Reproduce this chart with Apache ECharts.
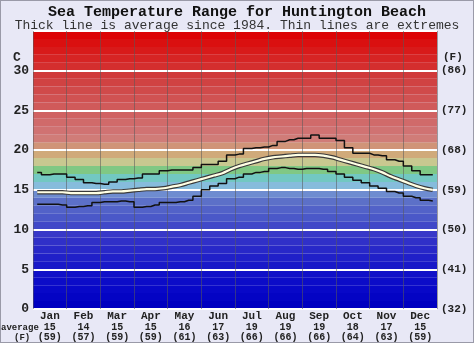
<!DOCTYPE html>
<html>
<head>
<meta charset="utf-8">
<script src="https://cdn.jsdelivr.net/npm/echarts@6/dist/echarts.min.js"></script>
<style>
html,body{margin:0;padding:0;background:#e8e8f6;}
#main{width:474px;height:343px;box-sizing:border-box;border:1px solid #9a9aa8;}
</style>
</head>
<body>
<div id="main"></div>
<script>
var months = ['Jan','Feb','Mar','Apr','May','Jun','Jul','Aug','Sep','Oct','Nov','Dec'];
var avgC = [15,14,15,15,16,17,19,19,19,18,17,15];
var avgF = [59,57,59,59,61,63,66,66,66,64,63,59];

// quarter-month readings, deg C
var upper = [17.2,16.9,17.0,17.0, 16.6,16.3,15.9,15.8, 15.7,16.0,16.3,16.4, 16.5,17.0,17.0,17.4,
	17.5,17.5,17.5,17.8, 18.2,18.2,18.6,19.4, 19.5,20.2,20.3,20.4, 20.6,21.1,21.3,21.5,
	21.5,21.9,21.5,21.5, 21.2,20.3,19.6,19.6, 19.4,19.3,18.8,18.6, 18.0,17.4,16.9,16.9];
var average = [14.7,14.7,14.7,14.7, 14.6,14.6,14.6,14.6, 14.7,14.8,14.8,14.9, 15.0,15.1,15.1,15.2,
	15.4,15.6,15.9,16.2, 16.5,16.8,17.1,17.6, 18.0,18.3,18.6,18.9, 19.1,19.2,19.3,19.4,
	19.4,19.4,19.3,19.1, 18.8,18.5,18.2,17.9, 17.6,17.2,16.7,16.3, 15.9,15.5,15.2,15.0];
var lower = [13.2,13.2,13.2,13.1, 12.8,12.9,13.0,13.4, 13.5,13.5,13.6,13.5, 12.8,12.9,13.1,13.4,
	13.4,13.5,13.7,14.2, 15.0,15.5,15.8,16.4, 16.6,17.0,17.2,17.3, 17.7,17.8,17.7,17.6,
	17.7,17.7,17.6,17.3, 17.0,16.6,16.2,15.9, 15.5,15.2,14.8,14.6, 14.2,14.0,13.7,13.6];
var steps = upper.map(function(v, i){ return i; });

// one colour per degree, from 0 up to 35
var bandColors = ['#0000c0','#0404c4','#0808c8','#0c0cc8','#1010c8','#1818c8','#2020c8','#2828c8',
	'#3030c8','#3838c8','#4048c8','#4a58c8','#5262c8','#5c70c8','#6e8cd0','#86bcdc',
	'#72c8c2','#80c884','#c8c890','#d0aa7a','#d09478','#d07c78','#d07272','#d06a6a',
	'#d06262','#d05a5a','#d05252','#d04a4a','#d04242','#d03a3a','#d42e2e','#d62424',
	'#d81a1a','#da1010','#dc0404'];

var mono = '"Liberation Mono", "DejaVu Sans Mono", monospace';

var myChart = echarts.init(document.getElementById('main'));
var option = {
	backgroundColor: '#e8e8f6',
	animation: false,
	title: {
		text: 'Sea Temperature Range for Huntington Beach',
		subtext: 'Thick line is average since 1984. Thin lines are extremes',
		left: 'center',
		top: -1,
		itemGap: -1,
		textStyle: {fontFamily: mono, fontSize: 15, fontWeight: 'bold', color: '#111'},
		subtextStyle: {fontFamily: mono, fontSize: 13, color: '#333'}
	},
	grid: {left: 32, right: 36, top: 30, bottom: 31},
	graphic: [
		{type: 'text', left: 12, top: 50, style: {text: 'C', font: 'bold 13px ' + mono, fill: '#222'}},
		{type: 'text', left: 442, top: 51, style: {text: '(F)', font: 'bold 11px ' + mono, fill: '#222'}},
		{type: 'text', left: 0, top: 322, style: {text: 'average', font: 'bold 9px ' + mono, fill: '#222'}},
		{type: 'text', left: 13, top: 332, style: {text: '(F)', font: 'bold 9px ' + mono, fill: '#222'}}
	],
	xAxis: [
		{
			type: 'category',
			data: months,
			boundaryGap: true,
			axisLine: {show: false},
			axisTick: {show: false},
			splitLine: {show: true, interval: 0, lineStyle: {color: 'rgba(90,90,90,0.55)', width: 1}},
			axisLabel: {
				interval: 0,
				margin: 2,
				formatter: function(v, i){
					return '{m|' + v + '}\n{n|' + avgC[i] + '}\n{n|(' + avgF[i] + ')}';
				},
				rich: {
					m: {fontFamily: mono, fontSize: 11, fontWeight: 'bold', color: '#222', lineHeight: 11},
					n: {fontFamily: mono, fontSize: 10, fontWeight: 'bold', color: '#222', lineHeight: 10}
				}
			}
		},
		{
			type: 'category',
			data: steps,
			boundaryGap: true,
			show: false
		}
	],
	yAxis: [
		{
			type: 'value', min: 0, max: 35, interval: 1,
			axisLine: {show: false}, axisTick: {show: false}, axisLabel: {show: false},
			splitLine: {show: false},
			splitArea: {show: true, areaStyle: {color: bandColors, opacity: 1}}
		},
		{
			type: 'value', min: 0, max: 35, interval: 5, position: 'left',
			axisLine: {show: false}, axisTick: {show: false},
			splitLine: {show: true, lineStyle: {color: '#ffffff', width: 2}},
			axisLabel: {
				margin: 4,
				fontFamily: mono, fontSize: 13, fontWeight: 'bold', color: '#222',
				formatter: function(v){ return v === 35 ? '' : v; }
			}
		},
		{
			type: 'value', min: 0, max: 35, interval: 5, position: 'right',
			axisLine: {show: false}, axisTick: {show: false},
			splitLine: {show: false},
			axisLabel: {
				margin: 4,
				fontFamily: mono, fontSize: 11, fontWeight: 'bold', color: '#222',
				formatter: function(v){ return v === 35 ? '' : '(' + Math.round(v * 9 / 5 + 32) + ')'; }
			}
		}
	],
	series: [
		{
			name: 'max', type: 'line', xAxisIndex: 1, yAxisIndex: 1,
			data: upper, step: 'middle', symbol: 'none',
			lineStyle: {color: '#111', width: 1.5}
		},
		{
			name: 'min', type: 'line', xAxisIndex: 1, yAxisIndex: 1,
			data: lower, step: 'middle', symbol: 'none',
			lineStyle: {color: '#111', width: 1.5}
		},
		{
			name: 'avg edge', type: 'line', xAxisIndex: 1, yAxisIndex: 1,
			data: average, smooth: 0.3, symbol: 'none',
			lineStyle: {color: '#3a3a3a', width: 4.5}
		},
		{
			name: 'average', type: 'line', xAxisIndex: 1, yAxisIndex: 1,
			data: average, smooth: 0.3, symbol: 'none',
			lineStyle: {color: '#ffffe4', width: 2.2}
		}
	]
};
myChart.setOption(option);
</script>
</body>
</html>
